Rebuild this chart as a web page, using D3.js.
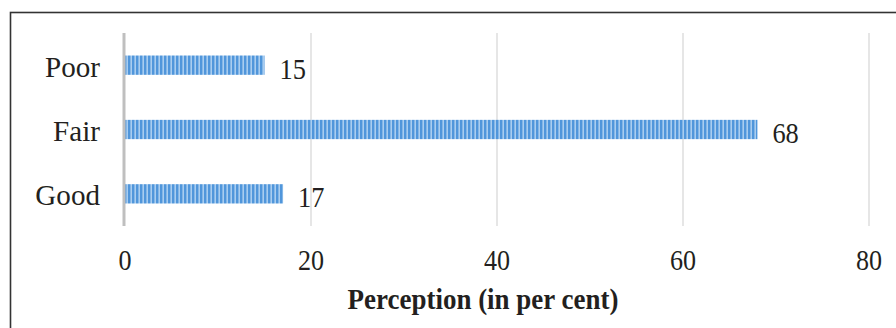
<!DOCTYPE html>
<html>
<head>
<meta charset="utf-8">
<script src="https://cdn.jsdelivr.net/npm/d3@7"></script>
<style>
  html, body { margin: 0; padding: 0; background: #fff; }
  svg { display: block; }
  text { font-family: "Liberation Serif", "Times New Roman", serif; fill: #231f20; }
</style>
</head>
<body>
<svg id="chart" width="896" height="328"></svg>
<script>
// Perception ratings (per cent)
const categories = ["Poor", "Fair", "Good"];
const values = [15, 68, 17];
const xTicks = [0, 20, 40, 60, 80];
const xTitle = "Perception (in per cent)";

const svg = d3.select("#chart");
const W = 896, H = 328;
const margin = { left: 125, right: 27, top: 33, bottom: 102 };

// outer frame
svg.append("rect")
  .attr("x", 10.5).attr("y", 12.5)
  .attr("width", W + 20).attr("height", H + 20)
  .attr("fill", "none").attr("stroke", "#333").attr("stroke-width", 1.6);

// striped bar fill
const defs = svg.append("defs");
const pat = defs.append("pattern")
  .attr("id", "stripes").attr("patternUnits", "userSpaceOnUse")
  .attr("width", 4).attr("height", 10);
pat.append("rect").attr("width", 4).attr("height", 10).attr("fill", "#a9cdf0");
pat.append("rect").attr("width", 2.4).attr("height", 10).attr("fill", "#5096db");

const x = d3.scaleLinear().domain([0, 80]).range([margin.left, W - margin.right]);
const y = d3.scaleBand().domain(categories)
  .range([margin.top, H - margin.bottom]).paddingInner(0.7).paddingOuter(0.35);

const plotTop = margin.top, plotBottom = H - margin.bottom;

// text helper: places a label with a horizontal squeeze
function label(g, px, py, sx) {
  return g.attr("transform", `translate(${px},${py}) scale(${sx},1)`);
}

// vertical gridlines
svg.append("g").selectAll("line")
  .data(xTicks.filter(d => d > 0))
  .join("line")
  .attr("x1", d => x(d)).attr("x2", d => x(d))
  .attr("y1", plotTop).attr("y2", plotBottom)
  .attr("stroke", "#d9d9d9").attr("stroke-width", 1.3);

// bars
svg.append("g").selectAll("rect")
  .data(categories)
  .join("rect")
  .attr("x", x(0))
  .attr("y", d => y(d))
  .attr("width", (d, i) => x(values[i]) - x(0))
  .attr("height", y.bandwidth())
  .attr("fill", "url(#stripes)");

// category axis line
svg.append("line")
  .attr("x1", x(0) - 1).attr("x2", x(0) - 1)
  .attr("y1", plotTop).attr("y2", plotBottom)
  .attr("stroke", "#bfbfbf").attr("stroke-width", 3);

// category labels
svg.append("g").selectAll("text")
  .data(categories)
  .join("text")
  .each(function (d) {
    label(d3.select(this), 100, y(d) + y.bandwidth() / 2 + 1, 0.97);
  })
  .attr("dy", "0.35em")
  .attr("text-anchor", "end")
  .attr("font-size", 30)
  .text(d => d);

// value labels
svg.append("g").selectAll("text")
  .data(categories)
  .join("text")
  .each(function (d, i) {
    label(d3.select(this), x(values[i]) + 15, y(d) + y.bandwidth() / 2 + 3, 0.88);
  })
  .attr("dy", "0.35em")
  .attr("font-size", 30)
  .text((d, i) => values[i]);

// x tick labels
svg.append("g").selectAll("text")
  .data(xTicks)
  .join("text")
  .each(function (d) {
    label(d3.select(this), x(d), 270, 0.9);
  })
  .attr("text-anchor", "middle")
  .attr("font-size", 29)
  .text(d => d);

// x axis title
svg.append("text")
  .each(function () {
    label(d3.select(this), 483, 309, 0.93);
  })
  .attr("text-anchor", "middle")
  .attr("font-size", 29)
  .attr("font-weight", "bold")
  .text(xTitle);
</script>
</body>
</html>
